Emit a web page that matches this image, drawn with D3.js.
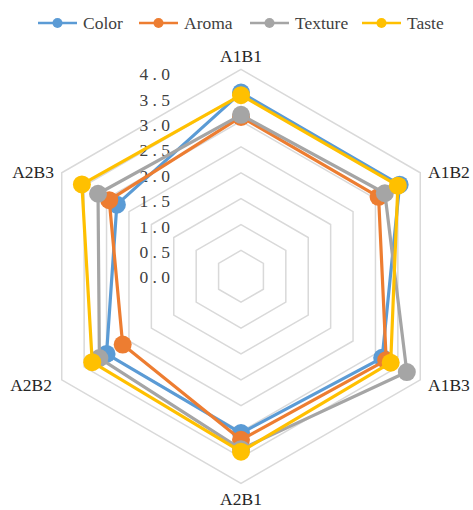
<!DOCTYPE html>
<html>
<head>
<meta charset="utf-8">
<script src="https://cdn.jsdelivr.net/npm/d3@7"></script>
<style>
  html, body { margin: 0; padding: 0; background: #fff; }
  svg { display: block; }
</style>
</head>
<body>
<div id="chart"></div>
<script>
// Sensory scores per treatment
const categories = ["A1B1", "A1B2", "A1B3", "A2B1", "A2B2", "A2B3"];
const colorScores   = [3.55, 3.54, 3.15, 3.03, 3.00, 2.77];
const aromaScores   = [3.08, 3.07, 3.24, 3.16, 2.64, 2.94];
const textureScores = [3.12, 3.21, 3.70, 3.34, 3.16, 3.19];
const tasteScores   = [3.50, 3.50, 3.34, 3.39, 3.32, 3.55];
const seriesNames = ["Color", "Aroma", "Texture", "Taste"];
const seriesColors = ["#5B9BD5", "#ED7D31", "#A5A5A5", "#FFC000"];
const tickValues = [0, 0.5, 1, 1.5, 2, 2.5, 3, 3.5, 4];

const series = [colorScores, aromaScores, textureScores, tasteScores].map((vals, i) => ({
  name: seriesNames[i], color: seriesColors[i], values: vals
}));

const W = 473, H = 510;
const cx = 241, cy = 276.3, R = 207;
const FONT = "'Liberation Serif', 'Times New Roman', 'DejaVu Serif', serif";

const svg = d3.select("#chart").append("svg")
  .attr("width", W).attr("height", H)
  .attr("font-family", FONT)
  .style("font-family", FONT);

const r = d3.scaleLinear().domain([0, 4]).range([0, R]);
const angle = d3.scalePoint().domain(categories).range([0, 2 * Math.PI * (categories.length - 1) / categories.length]);

const pt = (cat, v) => {
  const a = angle(cat);
  return [cx + r(v) * Math.sin(a), cy - r(v) * Math.cos(a)];
};

// Hexagonal grid rings
const ring = d3.line().curve(d3.curveLinearClosed);
svg.append("g").selectAll("path")
  .data(tickValues.filter(t => t > 0))
  .join("path")
  .attr("d", t => ring(categories.map(c => pt(c, t))))
  .attr("fill", "none")
  .attr("stroke", "#d9d9d9")
  .attr("stroke-width", 1.5);

// Radial value labels
svg.append("g").selectAll("text")
  .data(tickValues)
  .join("text")
  .attr("x", 170)
  .attr("y", t => cy - r(t) * 0.981 + 7)
  .attr("text-anchor", "end")
  .attr("font-size", 17.5)
  .attr("fill", "#404040")
  .text(t => d3.format(".1f")(t).split("").join(" "));

// Category labels
const labelPos = {
  "A1B1": [241, 62, "middle"],
  "A1B2": [428, 178, "start"],
  "A1B3": [428, 391, "start"],
  "A2B1": [241, 505, "middle"],
  "A2B2": [52, 391, "end"],
  "A2B3": [54, 178, "end"]
};
svg.append("g").selectAll("text")
  .data(categories)
  .join("text")
  .attr("x", c => labelPos[c][0])
  .attr("y", c => labelPos[c][1])
  .attr("text-anchor", c => labelPos[c][2])
  .attr("font-size", 17.5)
  .attr("fill", "#262626")
  .text(c => c);

// Series lines and markers
const g = svg.append("g");
series.forEach(s => {
  const pts = categories.map((c, i) => pt(c, s.values[i]));
  g.append("path")
    .attr("d", ring(pts))
    .attr("fill", "none")
    .attr("stroke", s.color)
    .attr("stroke-width", 3.2)
    .attr("stroke-linejoin", "round");
  g.append("g").selectAll("circle")
    .data(pts)
    .join("circle")
    .attr("cx", d => d[0])
    .attr("cy", d => d[1])
    .attr("r", 9)
    .attr("fill", s.color);
});

// Legend
const legendX = [38, 139, 250, 362];
const lg = svg.append("g").selectAll("g")
  .data(series)
  .join("g")
  .attr("transform", (d, i) => `translate(${legendX[i]},23)`);
lg.append("line")
  .attr("x1", 0).attr("x2", 39)
  .attr("stroke", d => d.color).attr("stroke-width", 2.5);
lg.append("circle")
  .attr("cx", 19.5).attr("r", 5)
  .attr("fill", d => d.color);
lg.append("text")
  .attr("x", 45).attr("y", 6)
  .attr("font-size", 17.5)
  .attr("fill", "#404040")
  .text(d => d.name);
</script>
</body>
</html>
